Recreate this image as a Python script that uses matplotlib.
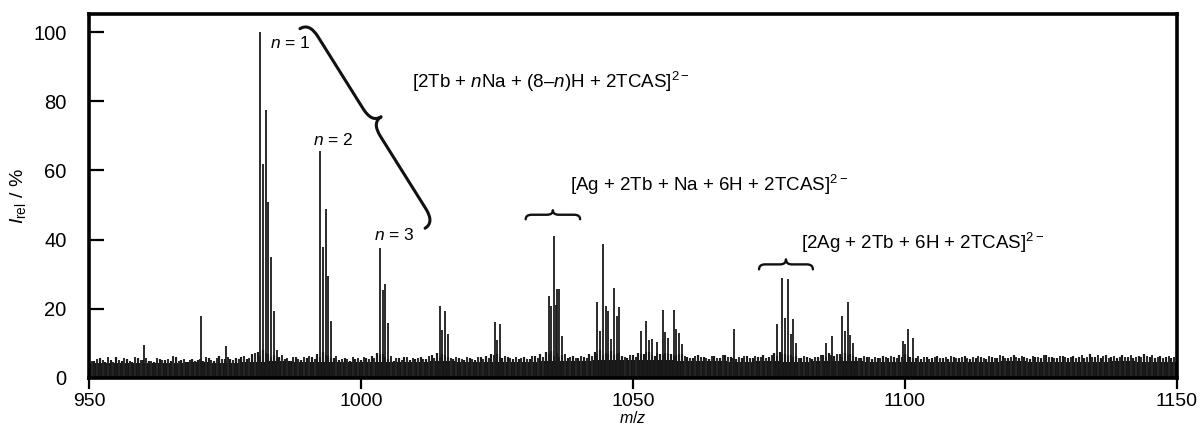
import numpy as np
import matplotlib
matplotlib.use("Agg")
import matplotlib.pyplot as plt
from matplotlib.path import Path
from matplotlib.patches import PathPatch

plt.rcParams['font.family'] = ['Liberation Sans', 'DejaVu Sans']
plt.rcParams['mathtext.fontset'] = 'custom'
plt.rcParams['mathtext.rm'] = 'Liberation Sans'
plt.rcParams['mathtext.it'] = 'Liberation Sans:italic'

# ---- data: peak positions (m/z) and relative intensities (%) ----
peak_mz = [960.1, 970.6, 975.2,
           981.5, 982.0, 982.5, 983.0, 983.5, 984.0, 984.5,
           992.5, 993.0, 993.5, 994.0, 994.5,
           1003.5, 1004.0, 1004.5, 1005.0,
           1014.5, 1015.0, 1015.5, 1016.0,
           1024.6, 1025.1, 1025.6,
           1034.5, 1035.0, 1035.5, 1035.8, 1036.0, 1036.5, 1037.0,
           1043.5, 1044.0, 1044.5, 1045.0, 1045.5, 1046.0, 1046.5, 1047.0, 1047.5,
           1051.5, 1052.5, 1053.0, 1053.5, 1054.5, 1055.5, 1056.0, 1056.5,
           1057.5, 1058.0, 1058.5, 1059.0,
           1068.6,
           1076.5, 1077.5, 1078.0, 1078.5, 1079.0, 1079.5, 1080.0,
           1085.6, 1086.6, 1088.5, 1089.0, 1089.5, 1090.0, 1090.5,
           1099.6, 1100.1, 1100.6, 1101.5]
peak_int = [9.4, 17.8, 9.2,
            100.0, 62.0, 77.5, 51.0, 35.0, 19.5, 8.0,
            65.5, 38.0, 49.0, 29.5, 16.5,
            37.7, 25.4, 27.2, 16.0,
            20.8, 14.0, 19.4, 12.7,
            16.3, 11.0, 15.6,
            23.7, 20.8, 41.0, 21.0, 25.8, 25.6, 12.0,
            21.9, 13.6, 38.6, 20.8, 19.4, 11.3, 26.0, 18.0, 20.5,
            13.7, 16.5, 11.0, 11.2, 10.5, 19.6, 13.4, 11.7,
            19.8, 14.3, 13.0, 9.7,
            14.3,
            15.6, 28.8, 17.4, 28.5, 12.6, 17.0, 10.0,
            10.0, 12.2, 17.9, 13.7, 22.0, 12.4, 10.0,
            10.7, 9.7, 14.3, 11.7]

# noise floor (solid band), one value every 5 m/z from 950 to 1150
band_mz = list(range(950, 1151, 5))
band_int = [4.3, 4.4, 4.2, 4.3, 4.5, 4.4, 4.7, 4.9, 4.6, 4.7,
            4.6, 4.5, 4.6, 4.8, 4.7, 4.6, 4.7, 4.9, 5.0, 5.1,
            5.2, 5.1, 4.9, 4.8, 4.7, 4.8, 4.7, 4.9, 5.0, 4.7,
            4.6, 4.7, 4.6, 4.7, 4.8, 4.7, 4.6, 4.7, 4.8, 4.7, 4.6]

# noise spikes at whole m/z values, 950 ... 1150
spike_mz = list(range(950, 1151))
spike_int = [5.5, 4.8, 5.9, 4.6, 5.2, 6.1, 4.9, 5.4, 4.7, 5.8,
             5.2, 5.0, 4.6, 5.6, 5.1, 4.8, 6.0, 5.3, 4.7, 5.5,
             5.2, 4.9, 5.7, 5.0, 6.3, 5.6, 5.4, 5.9, 6.2, 5.6,
             6.8, 7.5, 8.2, 7.0, 6.6, 6.1, 5.4, 5.0, 6.0, 5.3,
             5.7, 6.2, 6.9, 7.4, 6.3, 5.8, 5.2, 5.9, 4.9, 5.6,
             5.3, 5.9, 6.4, 7.1, 6.8, 5.5, 5.0, 5.8, 6.0, 5.2,
             5.6, 6.2, 5.4, 6.6, 7.3, 6.9, 6.2, 5.5, 5.9, 5.1,
             5.8, 5.3, 6.1, 6.4, 7.0, 6.8, 5.7, 6.2, 5.4, 5.6,
             6.0, 5.5, 6.3, 6.9, 7.4, 7.8, 7.2, 6.5, 5.9, 6.3,
             5.7, 6.2, 6.8, 7.6, 8.0, 7.3, 7.7, 6.9, 6.4, 5.9,
             6.6, 7.2, 6.8, 7.5, 6.4, 7.0, 7.3, 6.8, 6.5, 6.9,
             6.2, 5.8, 6.5, 6.0, 5.6, 6.3, 5.9, 6.7, 6.2, 5.5,
             5.9, 6.4, 5.7, 6.1, 6.6, 6.2, 7.1, 7.5, 7.0, 6.6,
             6.3, 5.8, 6.1, 5.6, 6.0, 6.7, 7.2, 6.4, 7.0, 7.3,
             6.8, 6.0, 5.7, 6.2, 5.5, 5.9, 6.3, 5.8, 6.1, 6.5,
             6.9, 6.2, 5.8, 5.5, 6.0, 5.7, 6.3, 5.9, 5.4, 6.1,
             5.8, 6.4, 5.6, 5.9, 6.2, 5.5, 6.0, 5.7, 6.3, 5.8,
             6.5, 5.9, 6.1, 5.6, 6.2, 5.8, 6.6, 6.0, 5.7, 6.3,
             5.9, 6.4, 6.0, 5.7, 6.8, 6.1, 5.8, 6.5, 6.2, 5.9,
             6.6, 6.0, 5.8, 6.3, 6.9, 6.1, 5.7, 6.4, 6.0, 5.8,
             5.6]

# noise spikes at half m/z values, 950.5 ... 1149.5
half_mz = [v + 0.5 for v in range(950, 1150)]
half_int = [4.9, 5.6, 5.1, 6.0, 4.7, 5.3, 5.8, 5.0, 6.2, 5.1,
            5.7, 4.8, 5.9, 5.2, 5.5, 6.3, 5.0, 5.6, 5.3, 4.9,
            5.6, 6.1, 5.2, 5.8, 5.4, 6.0, 5.1, 5.5, 6.4, 5.9,
            7.1, 6.4, 7.3, 6.2, 5.9, 6.7, 5.8, 6.2, 5.5, 6.1,
            6.4, 5.6, 6.0, 6.7, 5.9, 6.3, 5.6, 5.4, 6.1, 5.8,
            6.2, 5.5, 5.9, 6.6, 6.0, 6.4, 5.7, 5.3, 6.2, 5.7,
            5.9, 5.5, 6.3, 5.8, 6.2, 6.6, 5.9, 6.1, 5.4, 6.0,
            5.5, 6.2, 5.6, 5.9, 6.5, 6.1, 6.4, 5.8, 6.0, 5.9,
            5.6, 6.4, 5.9, 6.2, 6.8, 6.4, 6.0, 6.9, 6.2, 5.8,
            6.4, 5.9, 6.3, 6.9, 6.5, 7.0, 6.6, 7.2, 6.1, 6.6,
            6.2, 6.9, 7.4, 6.6, 7.1, 6.5, 6.9, 6.3, 7.0, 6.4,
            5.9, 6.4, 6.1, 5.7, 6.3, 5.8, 6.5, 6.0, 5.7, 6.2,
            6.4, 5.8, 6.3, 6.0, 5.7, 6.6, 6.3, 6.9, 6.4, 6.1,
            5.9, 6.4, 5.7, 6.2, 6.5, 6.1, 6.6, 6.9, 6.2, 6.7,
            6.3, 5.8, 6.4, 6.0, 6.2, 5.7, 6.1, 6.4, 5.9, 6.2,
            6.4, 5.9, 6.3, 6.0, 5.6, 6.2, 5.8, 6.1, 6.4, 5.7,
            6.1, 5.7, 6.2, 6.4, 5.8, 6.3, 5.9, 6.5, 5.8, 6.2,
            6.0, 6.3, 5.8, 6.4, 6.0, 6.5, 6.1, 5.8, 6.4, 6.0,
            6.2, 5.8, 6.5, 6.2, 6.0, 6.6, 6.3, 5.9, 6.4, 6.1,
            6.2, 6.5, 6.1, 6.0, 6.4, 6.7, 6.2, 5.9, 6.3, 6.1]

x_ticks = [950, 1000, 1050, 1100, 1150]
y_ticks = [0, 20, 40, 60, 80, 100]

fig = plt.figure(figsize=(12.02, 4.30), dpi=100)
ax = fig.add_axes([0.074, 0.121, 0.905, 0.846])
ax.set_xlim(950, 1150)
ax.set_ylim(0, 105.2)

ax.fill_between(band_mz, 0, band_int, step='mid', color='#161616', lw=0)
ax.vlines(spike_mz, 0, spike_int, color='#1a1a1a', lw=1.6)
ax.vlines(half_mz, 0, half_int, color='#262626', lw=1.4)
ax.vlines(peak_mz, 0, peak_int, color='#1a1a1a', lw=1.3)

for s in ax.spines.values():
    s.set_linewidth(2.6)
ax.set_xticks(x_ticks)
ax.set_yticks(y_ticks)
ax.tick_params(axis='y', direction='in', length=11, width=1.6, labelsize=14.5, pad=16)
ax.tick_params(axis='x', direction='out', length=8, width=1.6, labelsize=14, pad=3)
ax.set_ylabel(r'$I_{\rm rel}$ / %', fontsize=14)
ax.yaxis.set_label_coords(-0.056, 0.5)
ax.set_xlabel(r'$m/z$', fontsize=11.5, labelpad=0)

fs = 12.5
fs2 = 13.5
ax.text(983.2, 97, r'$n$ = 1', fontsize=fs, ha='left', va='center')
ax.text(991.2, 68.8, r'$n$ = 2', fontsize=fs, ha='left', va='center')
ax.text(1002.5, 41.3, r'$n$ = 3', fontsize=fs, ha='left', va='center')
ax.text(1009.4, 85.5, r'[2Tb + $n$Na + (8–$n$)H + 2TCAS$]^{2-}$', fontsize=fs2, ha='left', va='center')
ax.text(1038.4, 55.8, r'[Ag + 2Tb + Na + 6H + 2TCAS$]^{2-}$', fontsize=fs2, ha='left', va='center')
ax.text(1081.0, 39.0, r'[2Ag + 2Tb + 6H + 2TCAS$]^{2-}$', fontsize=fs2, ha='left', va='center')


def brace(ax, p0, p1, h, q, lw):
    fig.canvas.draw()
    P0 = ax.transData.transform(p0)
    P1 = ax.transData.transform(p1)
    d = P1 - P0
    L = np.hypot(*d)
    u = d / L
    n = np.array([-u[1], u[0]])
    loc = [(0, 0), (0, h / 2), (q, h / 2),
           (L / 2 - q, h / 2), (L / 2, h / 2), (L / 2, h),
           (L / 2, h / 2), (L / 2 + q, h / 2),
           (L - q, h / 2), (L, h / 2), (L, 0)]
    codes = [Path.MOVETO, Path.CURVE3, Path.CURVE3,
             Path.LINETO, Path.CURVE3, Path.CURVE3,
             Path.CURVE3, Path.CURVE3,
             Path.LINETO, Path.CURVE3, Path.CURVE3]
    pts = [P0 + s * u + t * n for s, t in loc]
    patch = PathPatch(Path(pts, codes), fc='none', ec='#111111', lw=lw,
                      transform=None, capstyle='round', joinstyle='round')
    fig.add_artist(patch)


brace(ax, (988.8, 101.0), (1011.8, 43.3), 22, 16, 2.2)
brace(ax, (1030.3, 45.9), (1040.3, 45.9), 9, 6, 1.7)
brace(ax, (1073.2, 31.4), (1083.1, 31.4), 10, 6, 1.7)

fig.savefig('out.png', dpi=100)
